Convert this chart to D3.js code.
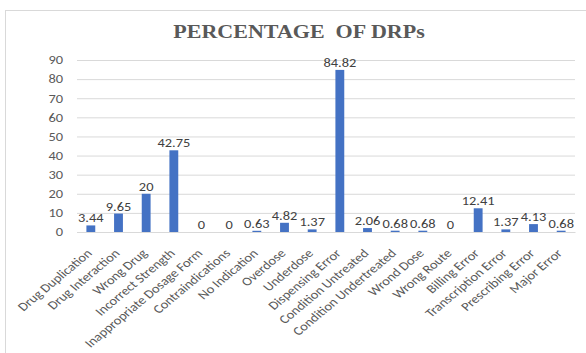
<!DOCTYPE html>
<html>
<head>
<meta charset="utf-8">
<script src="https://cdn.jsdelivr.net/npm/d3@7"></script>
<style>
  html, body { margin: 0; padding: 0; background: #fff; }
  svg { display: block; }
</style>
</head>
<body>
<svg id="chart" width="586" height="353"></svg>
<script>
// Drug-related problem categories and their share (%)
const categories = [
  "Drug Duplication", "Drug Interaction", "Wrong Drug", "Incorrect Strength",
  "Inappropriate Dosage Form", "Contraindications", "No Indication", "Overdose",
  "Underdose", "Dispensing Error", "Condition Untreated", "Condition Undertreated",
  "Wrond Dose", "Wrong Route", "Billing Error", "Transcription Error",
  "Prescribing Error", "Major Error"
];
const values = [
  3.44, 9.65, 20, 42.75, 0, 0, 0.63, 4.82, 1.37, 84.82,
  2.06, 0.68, 0.68, 0, 12.41, 1.37, 4.13, 0.68
];
const yTicks = [0, 10, 20, 30, 40, 50, 60, 70, 80, 90];
const title = "PERCENTAGE\u00a0\u00a0OF DRPs";

const svg = d3.select("#chart");
const W = 586, H = 353;
const margin = { left: 77, right: 11, top: 60, bottom: 121 };
const plotW = W - margin.left - margin.right;
const plotH = H - margin.top - margin.bottom;

const sans = "Carlito, Calibri, 'Open Sans', 'Liberation Sans', sans-serif";
const stretch = 1.2; // text is drawn slightly widened

// chart frame
svg.append("rect")
  .attr("x", 5.5).attr("y", 10.5)
  .attr("width", 620).attr("height", 360)
  .attr("fill", "#fff").attr("stroke", "#d9d9d9").attr("stroke-width", 1);

svg.append("text")
  .attr("transform", "translate(299,38) scale(1.13,1)")
  .attr("text-anchor", "middle")
  .attr("font-family", "'Liberation Serif', 'Times New Roman', serif")
  .attr("font-weight", "bold")
  .attr("font-size", 19.5)
  .attr("fill", "#595959")
  .text(title);

const g = svg.append("g").attr("transform", `translate(${margin.left},${margin.top})`);

const x = d3.scaleBand().domain(categories).range([0, plotW]).paddingInner(0.68).paddingOuter(0.34);
const y = d3.scaleLinear().domain([0, 90]).range([plotH, 0]);

// gridlines + y labels
const yAxis = d3.axisLeft(y).tickValues(yTicks).tickSize(-plotW).tickPadding(0);
const ya = g.append("g").call(yAxis);
ya.select(".domain").remove();
ya.selectAll(".tick line").attr("stroke", "#d9d9d9");
ya.selectAll(".tick text")
  .attr("font-family", sans).attr("font-size", 12).attr("fill", "#595959")
  .attr("x", 0)
  .attr("transform", `translate(-14,0) scale(${stretch},1)`);

// bars
g.selectAll("rect.bar")
  .data(values)
  .join("rect")
  .attr("class", "bar")
  .attr("x", (d, i) => x(categories[i]))
  .attr("y", d => y(d))
  .attr("width", x.bandwidth())
  .attr("height", d => plotH - y(d))
  .attr("fill", "#4472c4");

// value labels
g.selectAll("text.val")
  .data(values)
  .join("text")
  .attr("class", "val")
  .attr("transform", (d, i) =>
    `translate(${x(categories[i]) + x.bandwidth() / 2},${y(d) - 3}) scale(${stretch},1)`)
  .attr("text-anchor", "middle")
  .attr("font-family", sans).attr("font-size", 12)
  .attr("fill", "#404040")
  .text(d => d);

// category axis
const xAxis = d3.axisBottom(x).tickSize(0).tickPadding(0);
const xa = g.append("g").attr("transform", `translate(0,${plotH})`).call(xAxis);
xa.select(".domain").attr("stroke", "#d9d9d9");
xa.selectAll(".tick text")
  .attr("font-family", sans).attr("font-size", 12).attr("fill", "#595959")
  .attr("text-anchor", "end")
  .attr("y", 0).attr("dy", "0")
  .attr("transform", `translate(2,22) scale(${stretch},1) rotate(-45)`);
</script>
</body>
</html>
